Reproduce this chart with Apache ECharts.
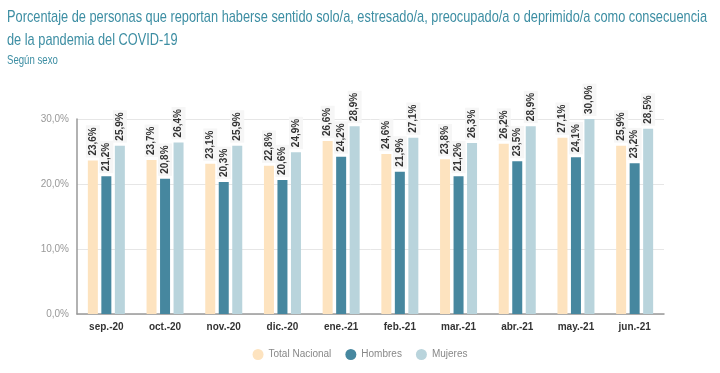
<!DOCTYPE html>
<html><head><meta charset="utf-8">
<script src="https://cdn.jsdelivr.net/npm/echarts@6/dist/echarts.min.js"></script>
<style>html,body{margin:0;padding:0;background:#fff}#c{width:720px;height:373px}</style>
</head><body><div id="c"></div>
<script>
var categories = ['sep.-20','oct.-20','nov.-20','dic.-20','ene.-21','feb.-21','mar.-21','abr.-21','may.-21','jun.-21'];
var totalNacional = [23.6,23.7,23.1,22.8,26.6,24.6,23.8,26.2,27.1,25.9];
var hombres = [21.2,20.8,20.3,20.6,24.2,21.9,21.2,23.5,24.1,23.2];
var mujeres = [25.9,26.4,25.9,24.9,28.9,27.1,26.3,28.9,30.0,28.5];
var yTicks = [0,10,20,30];
var titleText = 'Porcentaje de personas que reportan haberse sentido solo/a, estresado/a, preocupado/a o deprimido/a como consecuencia\nde la pandemia del COVID-19';
var subtitleText = 'Según sexo';

var chart = echarts.init(document.getElementById('c'));
var fmt = function(v){ return v.toFixed(1).replace('.', ',') + '%'; };
function mk(name, data, color){
  return {
    name: name, type: 'bar', data: data, barWidth: 10, barGap: '35%',
    itemStyle: { color: color },
    label: {
      show: true, position: 'top', rotate: 90, align: 'left', verticalAlign: 'middle',
      distance: 3, fontSize: 10, fontWeight: 'bold', color: '#333',
      backgroundColor: '#f6f6f6', padding: [2,2,2,2],
      formatter: function(p){ return fmt(p.value); }
    }
  };
}
chart.setOption({
  animation: false,
  graphic: [
    { type: 'text', x: 7, y: 6, scaleX: 0.752,
      style: { text: titleText, fill: '#3d8ea3', fontSize: 17, fontFamily: 'Liberation Sans, sans-serif', lineHeight: 23 } },
    { type: 'text', x: 7, y: 54, scaleX: 0.74,
      style: { text: subtitleText, fill: '#3d8ea3', fontSize: 13, fontFamily: 'Liberation Sans, sans-serif' } }
  ],
  legend: {
    bottom: 8, left: 'center', icon: 'circle', itemWidth: 11, itemHeight: 11, itemGap: 14,
    textStyle: { color: '#888', fontSize: 10 },
    data: ['Total Nacional','Hombres','Mujeres']
  },
  grid: { left: 77, right: 56, top: 119, bottom: 59 },
  xAxis: {
    type: 'category', data: categories,
    axisLine: { lineStyle: { color: '#999', width: 1.5 } },
    axisTick: { show: false },
    axisLabel: { color: '#333', fontWeight: 'bold', fontSize: 10, margin: 8 }
  },
  yAxis: {
    type: 'value', min: yTicks[0], max: yTicks[yTicks.length-1], interval: 10,
    axisLine: { show: true, lineStyle: { color: '#999', width: 1.5 } },
    axisTick: { show: false },
    splitLine: { lineStyle: { color: '#e6e6e6' } },
    axisLabel: { color: '#999', fontSize: 10, margin: 8, formatter: function(v){ return fmt(v); } }
  },
  series: [
    mk('Total Nacional', totalNacional, '#fde3bf'),
    mk('Hombres', hombres, '#46879f'),
    mk('Mujeres', mujeres, '#b9d4dc')
  ]
});
</script></body></html>
